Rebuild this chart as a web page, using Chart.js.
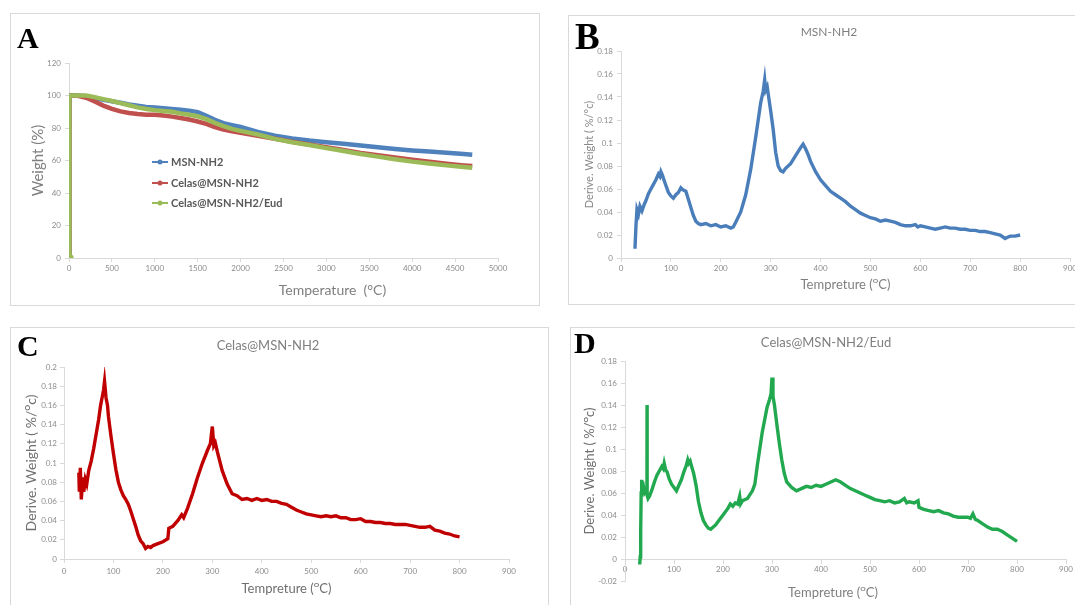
<!DOCTYPE html>
<html><head><meta charset="utf-8">
<script src="https://cdn.jsdelivr.net/npm/chart.js@4.4.1/dist/chart.umd.min.js"></script>
<style>
html,body{margin:0;padding:0;background:#fff;width:1075px;height:605px;overflow:hidden;position:relative;}
.panel{position:absolute;border:1px solid #d9d9d9;box-sizing:border-box;overflow:hidden;background:#fff;}
canvas{display:block;}
</style></head><body>
<div class="panel" style="left:10px;top:13px;width:530px;height:293px;"><canvas id="cA" width="528" height="291"></canvas></div>
<div class="panel" style="left:568px;top:15px;width:522px;height:290px;"><canvas id="cB" width="520" height="288"></canvas></div>
<div class="panel" style="left:10px;top:327px;width:539px;height:290px;"><canvas id="cC" width="537" height="277"></canvas></div>
<div class="panel" style="left:570px;top:327px;width:522px;height:290px;"><canvas id="cD" width="520" height="277"></canvas></div>
<script>
// ---------- DATA ----------
// Panel A : TGA weight (%)
const aTemp = [0,5,100,200,300,400,500,600,700,800,900,1000,1100,1200,1300,1400,1500,1600,1700,1800,1900,2000,2200,2400,2600,2800,3000,3200,3400,3600,3800,4000,4200,4400,4600,4700];
const aMSN = [0,100,100,99.5,98.3,97.3,96.5,95.5,94.5,93.7,93,92.6,92.2,91.7,91.2,90.7,89.8,87.5,85,83,81.8,80.6,77.6,75.3,73.6,72.3,71.3,70.3,69.2,68.2,67.1,66.2,65.5,64.8,64,63.6];
const aCelas = [0,100,99.8,98.6,96.3,93.8,91.8,90.2,89.2,88.6,88.2,88.1,87.7,87,86.2,85.2,84,82.5,80.6,79,78,77,75.2,73.4,71.5,69.8,68.2,66.5,64.6,63.2,61.8,60.4,59.2,58,57,56.6];
const aEud = [0,100,100,100,99,97.8,96.6,95.3,94,92.7,91.7,91,90.5,90,89,88.2,87.2,85.5,83.2,81.2,79.5,78.2,76,73.3,71.2,69.5,67.6,65.8,64,62.4,60.8,59.3,58.1,57,56,55.6];
const aLabels = ['MSN-NH2','Celas@MSN-NH2','Celas@MSN-NH2/Eud'];

// Panel B : MSN-NH2 DTG
const bTemp = [28,30,32,35,38,42,46,50,55,60,65,70,75,78,80,83,86,90,95,100,105,110,115,120,125,130,135,140,145,150,155,160,170,180,190,200,210,220,225,230,240,250,260,270,280,285,288,290,293,296,300,305,310,315,320,325,330,340,350,360,365,370,375,380,390,400,410,420,430,440,450,460,470,480,490,500,510,520,530,540,550,560,570,580,590,595,600,610,620,630,640,650,660,670,680,690,700,710,720,730,740,750,760,770,775,780,790,800];
const bDeriv = [0.008,0.028,0.042,0.038,0.045,0.041,0.046,0.050,0.056,0.060,0.064,0.068,0.073,0.071,0.075,0.072,0.068,0.063,0.057,0.054,0.052,0.055,0.057,0.061,0.059,0.058,0.051,0.044,0.037,0.032,0.030,0.029,0.030,0.028,0.029,0.027,0.028,0.026,0.027,0.031,0.040,0.055,0.077,0.105,0.135,0.145,0.155,0.146,0.149,0.140,0.128,0.112,0.092,0.080,0.076,0.075,0.078,0.082,0.089,0.096,0.099,0.095,0.090,0.084,0.075,0.068,0.063,0.058,0.055,0.052,0.049,0.045,0.042,0.039,0.037,0.035,0.034,0.032,0.033,0.032,0.031,0.029,0.028,0.028,0.029,0.027,0.028,0.027,0.026,0.025,0.026,0.027,0.026,0.026,0.025,0.025,0.024,0.024,0.023,0.023,0.022,0.021,0.020,0.017,0.018,0.019,0.019,0.020];

// Panel C : Celas@MSN-NH2 DTG
const cTemp = [30,31,33,35,38,40,43,46,50,55,60,65,70,74,77,80,82,85,88,90,95,100,105,110,115,120,125,130,135,140,145,150,155,160,165,170,175,180,190,200,210,212,220,230,238,242,250,260,270,280,290,296,300,303,306,310,315,320,330,340,350,360,370,380,390,400,410,420,430,440,450,460,470,480,490,500,510,520,530,540,550,560,570,580,590,600,610,620,630,640,650,660,670,680,690,700,710,720,730,740,750,760,770,780,790,800];
const cDeriv = [0.090,0.070,0.095,0.062,0.085,0.070,0.083,0.078,0.092,0.102,0.115,0.130,0.145,0.160,0.168,0.176,0.185,0.168,0.160,0.148,0.128,0.110,0.093,0.080,0.072,0.066,0.062,0.057,0.050,0.042,0.034,0.025,0.019,0.016,0.011,0.013,0.012,0.014,0.016,0.018,0.021,0.032,0.034,0.040,0.046,0.043,0.053,0.068,0.085,0.100,0.113,0.120,0.138,0.118,0.121,0.112,0.102,0.092,0.078,0.068,0.066,0.062,0.063,0.061,0.063,0.061,0.062,0.060,0.060,0.058,0.057,0.054,0.051,0.049,0.047,0.046,0.045,0.044,0.045,0.044,0.045,0.043,0.043,0.041,0.041,0.042,0.039,0.039,0.038,0.038,0.037,0.037,0.036,0.036,0.036,0.035,0.034,0.033,0.033,0.034,0.030,0.029,0.027,0.026,0.024,0.023];

// Panel D : Celas@MSN-NH2/Eud DTG
const dTemp = [30,31,32,33,34,36,38,40,43,44.8,45,45.2,47,50,55,60,65,70,75,78,80,83,86,90,95,100,105,110,115,120,125,128,130,133,136,140,145,150,155,160,165,170,175,180,185,190,200,210,215,220,225,230,234,236,240,250,260,265,270,280,290,295,298,300,302,305,310,315,320,325,330,340,350,360,370,380,390,400,410,420,430,440,450,460,470,480,490,500,510,520,530,540,550,560,570,575,580,590,598,600,605,610,620,630,640,650,660,670,680,690,700,705,710,715,720,730,740,750,760,770,780,790,800];
const dDeriv = [-0.005,0.002,0.025,0.060,0.072,0.062,0.065,0.060,0.062,0.060,0.140,0.058,0.055,0.057,0.063,0.070,0.076,0.080,0.084,0.082,0.087,0.081,0.079,0.073,0.068,0.065,0.062,0.067,0.072,0.079,0.085,0.090,0.087,0.089,0.084,0.078,0.067,0.052,0.042,0.035,0.031,0.028,0.027,0.029,0.031,0.034,0.040,0.046,0.050,0.048,0.051,0.050,0.057,0.050,0.053,0.055,0.062,0.068,0.085,0.115,0.138,0.145,0.150,0.165,0.148,0.140,0.122,0.105,0.090,0.078,0.070,0.065,0.062,0.064,0.066,0.065,0.067,0.066,0.068,0.070,0.072,0.070,0.067,0.064,0.062,0.060,0.058,0.056,0.054,0.053,0.052,0.053,0.051,0.052,0.055,0.051,0.052,0.051,0.053,0.047,0.046,0.045,0.044,0.043,0.044,0.042,0.041,0.039,0.038,0.038,0.038,0.037,0.041,0.036,0.035,0.032,0.029,0.027,0.027,0.025,0.022,0.019,0.016];

// ---------- HELPERS ----------
Chart.defaults.font.family = 'Lato, "DejaVu Sans", sans-serif';
Chart.defaults.color = '#8a8a8a';
const GRID = '#d9d9d9';
const fmt2 = v => String(parseFloat(Number(v).toFixed(2)));
const fmt0 = v => String(v);
const pts = (xs, ys) => xs.map((x, i) => ({x: x, y: ys[i]}));

function axis(o) {
  const s = {
    type: 'linear', min: o.min, max: o.max,
    grid: { display: true, drawOnChartArea: false, drawTicks: true, tickLength: 4, color: GRID },
    border: { display: true, color: GRID, width: 1 },
    ticks: { stepSize: o.step, padding: o.pad, color: '#8c8c8c', font: { size: 8 }, callback: o.cb, autoSkip: false, maxRotation: 0, includeBounds: true },
    title: o.title ? { display: true, text: o.title, color: o.tcolor || '#808080', font: { size: o.tsize }, padding: o.tpad } : { display: false },
    afterFit: sc => { if (o.w != null) sc.width = o.w; if (o.h != null) sc.height = o.h; }
  };
  if (o.position) s.position = o.position;
  return s;
}

const decor = {
  id: 'decor',
  afterDraw(chart, args, o) {
    const ctx = chart.ctx;
    (o.texts || []).forEach(t => {
      ctx.save();
      ctx.font = t.font; ctx.fillStyle = t.color || '#595959';
      ctx.textAlign = t.align || 'center'; ctx.textBaseline = t.baseline || 'middle';
      ctx.fillText(t.text, t.x, t.y);
      ctx.restore();
    });
    if (o.legend) {
      const L = o.legend;
      chart.data.datasets.forEach((ds, i) => {
        const y = L.ys[i];
        ctx.save();
        ctx.strokeStyle = ds.borderColor; ctx.lineWidth = 2;
        ctx.beginPath(); ctx.moveTo(L.x0, y); ctx.lineTo(L.x1, y); ctx.stroke();
        ctx.fillStyle = ds.borderColor;
        ctx.beginPath(); ctx.arc((L.x0 + L.x1) / 2, y, 2.5, 0, Math.PI * 2); ctx.fill();
        ctx.font = L.font; ctx.fillStyle = L.color; ctx.textAlign = 'left'; ctx.textBaseline = 'middle';
        ctx.fillText(ds.label, L.tx, y + 0.5);
        ctx.restore();
      });
    }
  }
};

function baseOptions(pad, scales, decorOpts) {
  return {
    responsive: false, animation: false, devicePixelRatio: 1,
    layout: { padding: pad },
    plugins: { legend: { display: false }, tooltip: { enabled: false }, title: { display: false }, decor: decorOpts },
    scales: scales,
    elements: { point: { radius: 0 }, line: { tension: 0 } }
  };
}
const LETTER = 'bold 30px "Liberation Serif", "DejaVu Serif", serif';

// ---------- PANEL A ----------
new Chart(document.getElementById('cA'), {
  type: 'line',
  plugins: [decor],
  data: { datasets: [
    { label: aLabels[0], data: pts(aTemp, aMSN), borderColor: '#4f81bd', backgroundColor: '#4f81bd', borderWidth: 4.5, order: 2 },
    { label: aLabels[1], data: pts(aTemp, aCelas), borderColor: '#c0504d', backgroundColor: '#c0504d', borderWidth: 4.5, order: 1 },
    { label: aLabels[2], data: pts(aTemp, aEud), borderColor: '#9bbb59', backgroundColor: '#9bbb59', borderWidth: 4.5, order: 0,
      pointRadius: c => c.dataIndex === 0 ? 2.5 : 0 }
  ]},
  options: baseOptions({ left: 0, right: 41, top: 49, bottom: 0 }, {
    x: axis({ min: 0, max: 5000, step: 500, pad: 2, cb: fmt0, h: 47 }),
    y: axis({ min: 0, max: 120, step: 20, pad: 4, cb: fmt0, w: 58, title: 'Weight (%)', tsize: 15, tpad: { top: 18, bottom: 0 }, tcolor: '#7f7f7f' })
  }, {
    texts: [
      { text: 'A', x: 6, y: 34, font: LETTER, color: '#000', align: 'left', baseline: 'alphabetic' },
      { text: 'Temperature  (\u00B0C)', x: 321.5, y: 276, font: '14px Lato, sans-serif', color: '#7f7f7f' }
    ],
    legend: { x0: 141, x1: 157, tx: 160, ys: [148, 169, 189], font: 'bold 11px Lato, sans-serif', color: '#595959' }
  })
});

// ---------- PANEL B ----------
new Chart(document.getElementById('cB'), {
  type: 'line',
  plugins: [decor],
  data: { datasets: [ { label: 'MSN-NH2', data: pts(bTemp, bDeriv), borderColor: '#4a7ebb', borderWidth: 3.4 } ] },
  options: baseOptions({ left: 0, right: 19, top: 35, bottom: 0 }, {
    x: axis({ min: 0, max: 900, step: 100, pad: 2, cb: fmt0, h: 46, title: 'Tempreture (\u1D3CC)', tsize: 13, tpad: { top: 0, bottom: 11 }, tcolor: '#7f7f7f' }),
    y: axis({ min: 0, max: 0.18, step: 0.02, pad: 4, cb: fmt2, w: 52, title: 'Derive. Weight ( %/\u00B0c)', tsize: 11, tpad: { top: 13.7, bottom: 0 }, tcolor: '#8a8a8a' })
  }, {
    texts: [
      { text: 'B', x: 6, y: 33, font: 'bold 37px "Liberation Serif", "DejaVu Serif", serif', color: '#000', align: 'left', baseline: 'alphabetic' },
      { text: 'MSN-NH2', x: 260, y: 16, font: '12px Lato, sans-serif', color: '#7f7f7f' }
    ]
  })
});

// ---------- PANEL C ----------
new Chart(document.getElementById('cC'), {
  type: 'line',
  plugins: [decor],
  data: { datasets: [ { label: 'Celas@MSN-NH2', data: pts(cTemp, cDeriv), borderColor: '#c00000', borderWidth: 3.4 } ] },
  options: baseOptions({ left: 0, right: 39, top: 39, bottom: 0 }, {
    x: axis({ min: 0, max: 900, step: 100, pad: 4, cb: fmt0, h: 46, title: 'Tempreture (\u1D3CC)', tsize: 13, tpad: { top: 0, bottom: 8 }, tcolor: '#6f6f6f' }),
    y: axis({ min: 0, max: 0.2, step: 0.02, pad: 3, cb: fmt2, w: 53, title: 'Derive. Weight ( %/\u1D3Cc)', tsize: 14, tpad: { top: 12.3, bottom: 0 }, tcolor: '#6f6f6f' })
  }, {
    texts: [
      { text: 'C', x: 6, y: 28, font: LETTER, color: '#000', align: 'left', baseline: 'alphabetic' },
      { text: 'Celas@MSN-NH2', x: 257, y: 18, font: '13px Lato, sans-serif', color: '#7f7f7f' }
    ]
  })
});

// ---------- PANEL D ----------
new Chart(document.getElementById('cD'), {
  type: 'line',
  plugins: [decor],
  data: { datasets: [ { label: 'Celas@MSN-NH2/Eud', data: pts(dTemp, dDeriv), borderColor: '#22a94f', borderWidth: 3.4 } ] },
  options: baseOptions({ left: 0, right: 25, top: 33, bottom: 24 }, {
    x: axis({ min: 0, max: 900, step: 100, pad: 2, cb: fmt0, position: { y: 0 } }),
    y: axis({ min: -0.02, max: 0.18, step: 0.02, pad: 4, cb: fmt2, w: 54, title: 'Derive. Weight ( %/\u1D3Cc)', tsize: 13, tpad: { top: 11.2, bottom: 0 }, tcolor: '#6f6f6f' })
  }, {
    texts: [
      { text: 'D', x: 3, y: 25, font: LETTER, color: '#000', align: 'left', baseline: 'alphabetic' },
      { text: 'Celas@MSN-NH2/Eud', x: 255, y: 15, font: '13px Lato, sans-serif', color: '#7f7f7f' },
      { text: 'Tempreture (\u1D3CC)', x: 262, y: 265, font: '13px Lato, sans-serif', color: '#7f7f7f' }
    ]
  })
});
</script>
</body></html>
